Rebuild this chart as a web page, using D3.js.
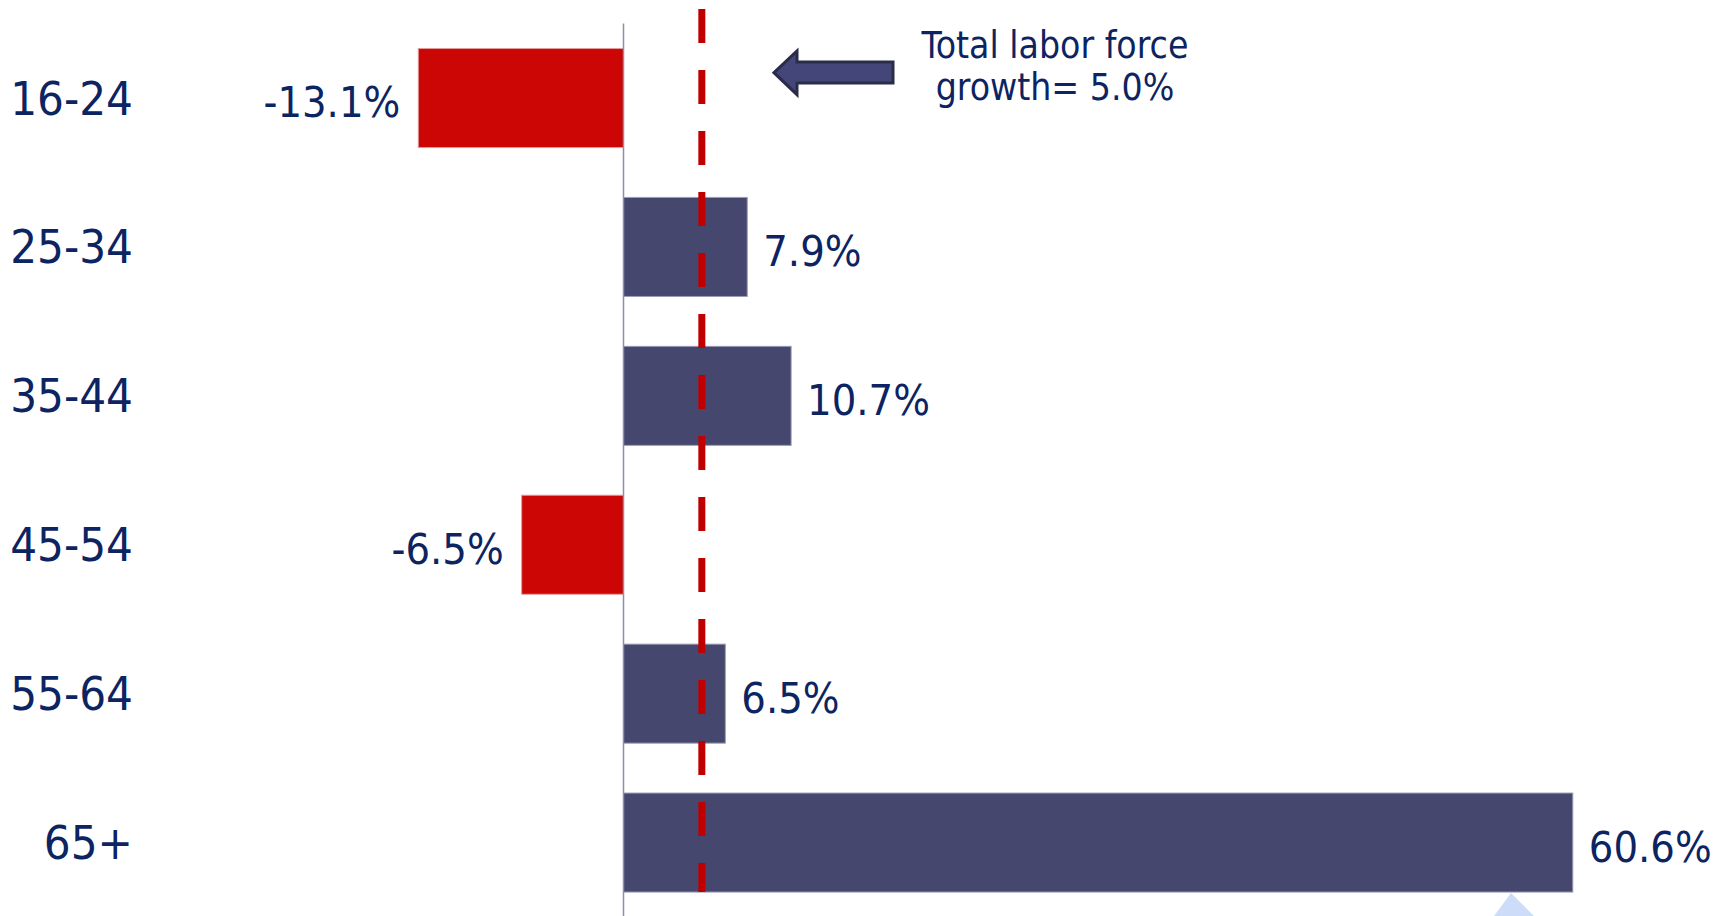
<!DOCTYPE html>
<html>
<head>
<meta charset="utf-8">
<script src="https://cdn.jsdelivr.net/npm/d3@7"></script>
<style>
  html, body { margin: 0; padding: 0; background: #ffffff; }
  svg { display: block; }
</style>
</head>
<body>
<svg id="chart" width="1727" height="916"></svg>
<script>
// ---- data ----
const categories = ["16-24", "25-34", "35-44", "45-54", "55-64", "65+"];
const growthValues = [-13.1, 7.9, 10.7, -6.5, 6.5, 60.6];
const valueLabels = ["-13.1%", "7.9%", "10.7%", "-6.5%", "6.5%", "60.6%"];
const totalGrowth = 5.0;
const annotationLines = ["Total labor force", "growth= 5.0%"];

// ---- layout ----
const W = 1727, H = 916;
const x0 = 623.5, pxPerUnit = 15.665;
const svg = d3.select("#chart");
const font = "'DejaVu Sans Condensed', 'DejaVu Sans', sans-serif";
const textColor = "#0c2461";

const x = d3.scaleLinear()
  .domain([-40, 70])
  .range([x0 - 40 * pxPerUnit, x0 + 70 * pxPerUnit]);

const y = d3.scaleBand()
  .domain(categories)
  .range([23.6, 23.6 + 6 * 148.9])
  .paddingInner(0.335)
  .paddingOuter(0.1675);

const data = categories.map((c, i) => ({ cat: c, v: growthValues[i], label: valueLabels[i] }));

// bars
svg.append("g").selectAll("rect")
  .data(data)
  .join("rect")
  .attr("x", d => x(Math.min(0, d.v)))
  .attr("width", d => Math.abs(x(d.v) - x(0)))
  .attr("y", d => y(d.cat))
  .attr("height", y.bandwidth())
  .attr("fill", d => d.v < 0 ? "#cc0505" : "#45476e")
  .attr("stroke", d => d.v < 0 ? "#e59a9a" : "#9a9cb8")
  .attr("stroke-width", 1);

// zero axis line
svg.append("line")
  .attr("x1", x(0)).attr("x2", x(0))
  .attr("y1", y.range()[0]).attr("y2", H)
  .attr("stroke", "#8a90ab")
  .attr("stroke-width", 1.5);

// dashed total line
svg.append("line")
  .attr("x1", x(totalGrowth)).attr("x2", x(totalGrowth))
  .attr("y1", 9).attr("y2", y("65+") + y.bandwidth())
  .attr("stroke", "#c00000")
  .attr("stroke-width", 7)
  .attr("stroke-dasharray", "34 27");

// category labels
const axisG = svg.append("g")
  .attr("transform", `translate(133,0)`)
  .call(d3.axisLeft(y).tickSize(0).tickPadding(0));
axisG.select(".domain").remove();
axisG.selectAll("text")
  .attr("font-family", font)
  .attr("font-size", 47)
  .attr("fill", textColor)
  .attr("dy", null)
  .attr("dominant-baseline", "central")
  .attr("text-anchor", "end");

// value labels
svg.append("g").selectAll("text")
  .data(data)
  .join("text")
  .attr("x", d => d.v < 0 ? x(d.v) - 18 : x(d.v) + 16)
  .attr("y", d => y(d.cat) + y.bandwidth() / 2 + 4)
  .attr("text-anchor", d => d.v < 0 ? "end" : "start")
  .attr("dominant-baseline", "central")
  .attr("font-family", font)
  .attr("font-size", 43)
  .attr("fill", textColor)
  .text(d => d.label);

// annotation arrow
const arrow = d3.path();
arrow.moveTo(774, 72.7);
arrow.lineTo(797, 51);
arrow.lineTo(797, 62);
arrow.lineTo(893, 62);
arrow.lineTo(893, 83);
arrow.lineTo(797, 83);
arrow.lineTo(797, 94.7);
arrow.closePath();
svg.append("path")
  .attr("d", arrow.toString())
  .attr("fill", "#44467a")
  .attr("stroke", "#2a2c48")
  .attr("stroke-width", 3)
  .attr("stroke-linejoin", "miter");

// annotation text
svg.append("g").selectAll("text")
  .data(annotationLines)
  .join("text")
  .attr("x", 1055)
  .attr("y", (d, i) => 58 + i * 42)
  .attr("text-anchor", "middle")
  .attr("font-family", font)
  .attr("font-size", 37)
  .attr("fill", textColor)
  .text(d => d);

// light blue decoration at bottom
svg.append("path")
  .attr("d", "M1511,893 L1494,916 L1534,916 Z")
  .attr("fill", "#cddcf8");
</script>
</body>
</html>
